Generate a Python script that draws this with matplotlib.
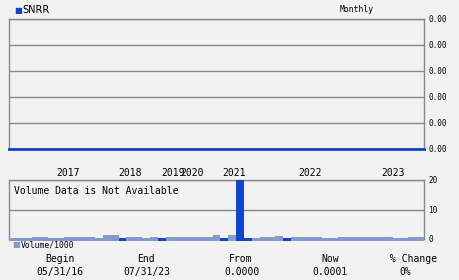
import matplotlib.pyplot as plt

# Datos (lectura aproximada de la imagen)
symbol = 'SNRR'
periodo = 'Monthly'

# precio mensual: todo practicamente en cero
precio = [0.0000] * 53

# volumen/1000 por barra, y si la barra es oscura
volumen = [0.4, 0.4, 0.4, 0.7, 0.7, 0.4, 0.4, 0.7, 0.7, 0.7,
           0.7, 0.4, 1.2, 1.2, 0.3, 0.6, 0.6, 0.4, 0.6, 0.3,
           0.6, 0.6, 0.6, 0.6, 0.6, 0.6, 1.3, 0.3, 1.2, 20.0,
           0.3, 0.4, 0.6, 0.6, 1.1, 0.3, 0.6, 0.6, 0.6, 0.6,
           0.4, 0.4, 0.6, 0.6, 0.6, 0.6, 0.6, 0.6, 0.6, 0.4,
           0.4, 0.6, 0.6]
oscura = [14, 19, 27, 29, 30, 35]

anios = ['2017', '2018', '2019', '2020', '2021', '2022', '2023']
pos_anios = [7.4, 15.2, 20.55, 22.95, 28.2, 37.7, 48.1]

precio_ticks = [0, 1, 2, 3, 4, 5]
vol_ticks = [0, 10, 20]

resumen_titulos = ['Begin', 'End', 'From', 'Now', '% Change']
resumen_valores = ['05/31/16', '07/31/23', '0.0000', '0.0001', '0%']

fondo = '#f2f2f2'
gris = '#888888'
azul = '#1144cc'
azul_claro = '#8899cc'
mono = 'DejaVu Sans Mono'

fig = plt.figure(figsize=(4.6, 2.8), dpi=100, facecolor=fondo)
W, H = 460, 280

def caja(x0, y0, x1, y1):
    return fig.add_axes([x0 / W, 1 - y1 / H, (x1 - x0) / W, (y1 - y0) / H])

# Panel de precio
ax = caja(9, 19, 424, 149)
ax.set_facecolor(fondo)
n = len(precio)
ax.set_xlim(0, n - 1)
ax.set_ylim(0, 5)
ax.plot(range(n), precio, color=azul, lw=2.0, clip_on=False, zorder=5)
ax.set_yticks(precio_ticks)
ax.set_yticklabels(['0.00'] * len(precio_ticks), fontsize=5.5, family=mono)
ax.yaxis.tick_right()
ax.tick_params(axis='y', length=0, pad=3)
ax.grid(axis='y', color=gris, lw=1)
ax.set_xticks(pos_anios)
ax.set_xticklabels(anios, fontsize=7, family=mono)
ax.tick_params(axis='x', length=0, pad=14)
for s in ['left', 'right', 'top']:
    ax.spines[s].set_color(gris)
    ax.spines[s].set_linewidth(1)
ax.spines['bottom'].set_visible(False)

fig.text(14 / W, 1 - 10 / H, '\u25a0', color=azul, fontsize=6, va='center')
fig.text(22 / W, 1 - 10 / H, symbol, fontsize=7, va='center')
fig.text(340 / W, 1 - 9 / H, periodo, fontsize=5.8, family=mono, va='center')

# Panel de volumen
av = caja(9, 180, 424, 239)
av.set_facecolor(fondo)
av.set_xlim(-0.5, n - 0.5)
av.set_ylim(0, 20)
colores = [azul if i in oscura else azul_claro for i in range(n)]
base = -0.6
av.bar(range(n), [v - base for v in volumen], bottom=base, width=1.0,
       color=colores, clip_on=False, zorder=5)
av.set_yticks(vol_ticks)
av.set_yticklabels([str(t) for t in vol_ticks], fontsize=5.5, family=mono)
av.yaxis.tick_right()
av.tick_params(axis='y', length=0, pad=3)
av.set_xticks([])
av.grid(axis='y', color=gris, lw=1)
for s in av.spines.values():
    s.set_color(gris)
    s.set_linewidth(1)
av.text(0.012, 0.81, 'Volume Data is Not Available', transform=av.transAxes,
        fontsize=7, family=mono, va='center')

fig.text(12 / W, 1 - 245 / H, '\u25a0', color=azul_claro, fontsize=6, va='center')
fig.text(21 / W, 1 - 245 / H, 'Volume/1000', fontsize=5.8, family=mono, va='center')

# Resumen inferior
cx_tit = [60, 146, 241, 330, 414]
cx_val = [60, 147, 242, 330, 405]
for t, v, a, b in zip(resumen_titulos, resumen_valores, cx_tit, cx_val):
    fig.text(a / W, 1 - 259 / H, t, fontsize=7, family=mono, ha='center', va='center')
    fig.text(b / W, 1 - 272 / H, v, fontsize=7, family=mono, ha='center', va='center')

fig.savefig('out.png', dpi=100, facecolor=fondo)
